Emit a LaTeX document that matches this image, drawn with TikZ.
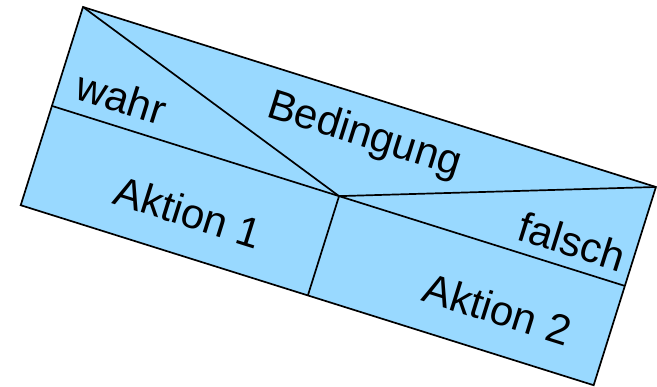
\documentclass[tikz,border=0pt]{standalone}
\usepackage{fontspec}
\setmainfont{Liberation Sans}
\definecolor{nsfill}{RGB}{153,217,255}
\begin{document}
\begin{tikzpicture}[x=1pt,y=-1pt,
  frame/.style={line width=1.7pt, line join=miter, draw=black},
  lbl/.style={inner sep=0pt, transform shape, font=\fontsize{42}{44}\selectfont}]
\useasboundingbox (0,0) rectangle (657,387);
\begin{scope}[shift={(83,7)}, rotate=-17.44]
  \coordinate (TL) at (0,0);
  \coordinate (TR) at (600.6,0);
  \coordinate (BR) at (600.6,207.8);
  \coordinate (BL) at (0,207.8);
  \coordinate (ML) at (0,103.7);
  \coordinate (MR) at (600.6,103.7);
  \coordinate (C) at (301,103.7);
  \coordinate (CB) at (301,207.8);
  \fill[nsfill] (TL) -- (TR) -- (BR) -- (BL) -- cycle;
  \draw[frame] (ML) -- (MR);
  \draw[frame] (TL) -- (C) -- (TR);
  \draw[frame] (C) -- (CB);
  \draw[frame] (TL) -- (TR) -- (BR) -- (BL) -- cycle;
  \node[lbl] (cond) at (307,39) {Bedingung};
  \node[lbl] (yes) at (64,75) {wahr};
  \node[lbl] (no) at (537,77) {falsch};
  \node[lbl] (act1) at (162,164) {Aktion 1};
  \node[lbl] (act2) at (486,164) {Aktion 2};
\end{scope}
\end{tikzpicture}
\end{document}
